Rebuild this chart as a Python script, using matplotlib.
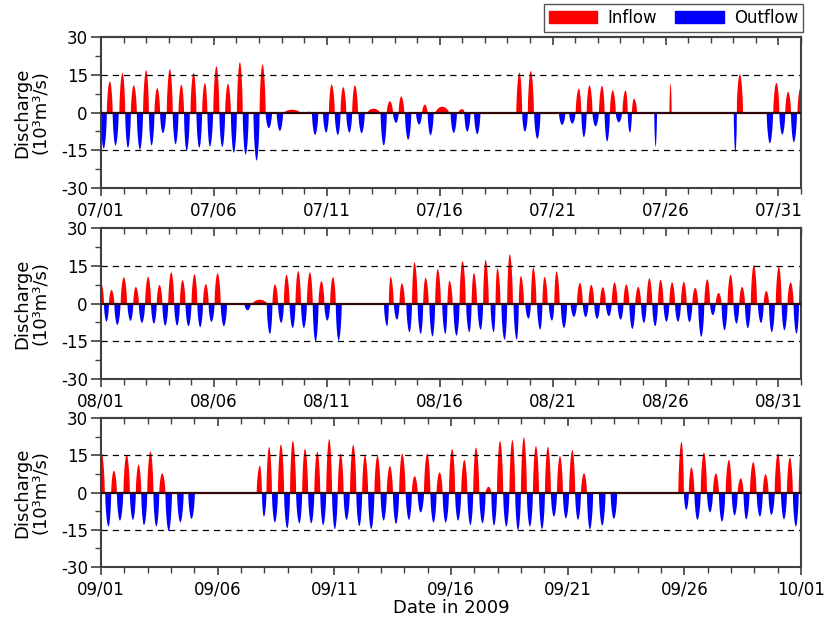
import numpy as np
import matplotlib.pyplot as plt
from matplotlib.ticker import MultipleLocator, FixedLocator
from matplotlib.patches import Patch

plt.rcParams['axes.unicode_minus'] = False

# peak discharge of each tide (10^3 m3/s); times in days after the 1st of the month
jul_in_t = [0.37, 0.93, 1.43, 1.98, 2.47, 3.03, 3.54, 4.08, 4.58, 5.09, 5.60, 6.13, 7.13,
            10.19, 10.70, 11.22, 12.77, 13.27, 14.32, 18.51, 19.01, 21.14, 21.61, 22.17,
            22.64, 23.21, 23.58, 28.27, 29.89, 30.41, 30.96]
jul_in_q = [12.6, 15.9, 11.0, 17.0, 9.9, 17.5, 11.2, 15.9, 11.9, 18.6, 11.6, 20.2, 19.3,
            11.4, 10.3, 11.0, 4.7, 6.6, 3.3, 16.1, 16.7, 9.7, 11.0, 10.8,
            9.0, 9.0, 5.7, 15.4, 12.0, 8.4, 10.1]
jul_out_t = [0.10, 0.62, 1.17, 1.70, 2.22, 2.72, 3.28, 3.77, 4.33, 4.80, 5.35, 5.86, 6.38,
             6.87, 7.41, 7.90, 9.46, 9.95, 10.47, 10.98, 11.52, 12.50, 13.05, 13.58, 14.07,
             14.57, 15.60, 16.20, 16.64, 18.75, 19.30, 20.40, 20.85, 21.36, 21.88, 22.39,
             22.91, 23.40, 29.60, 30.15, 30.66]
jul_out_q = [-14.1, -12.9, -13.8, -14.5, -12.9, -8.0, -12.4, -15.1, -13.8, -13.3, -13.5, -15.8, -16.5,
             -18.9, -6.0, -7.1, -8.7, -7.8, -8.7, -7.8, -8.0, -12.9, -3.9, -10.6, -4.6,
             -8.8, -7.9, -7.4, -8.4, -7.4, -10.2, -4.7, -4.2, -9.6, -5.3, -11.3,
             -3.7, -7.8, -12.0, -8.6, -11.6]
# short spikes and slow weak flows: (time, peak, half duration)
jul_spikes = [(25.20, 11.7, 0.05), (24.54, -13.3, 0.06), (28.07, -15.5, 0.07)]
jul_slow = [(8.44, 1.3, 0.37), (9.19, 0.5, 0.15), (12.05, 1.7, 0.28),
            (15.09, 2.5, 0.30), (15.96, 1.5, 0.16)]

aug_in_t = [0.0, 0.44, 0.99, 1.52, 2.07, 2.57, 3.09, 3.59, 4.12, 4.62, 5.14,
            7.68, 8.19, 8.71, 9.23, 9.74, 10.25,
            12.80, 13.30, 13.86, 14.35, 14.89, 15.41, 15.99, 16.49, 17.01, 17.53, 18.08,
            18.57, 19.12, 19.62, 20.15,
            21.19, 21.69, 22.20, 22.72, 23.24, 23.77, 24.26, 24.76, 25.27, 25.79, 26.29,
            26.83, 27.33, 27.86, 28.37, 28.89, 29.44, 30.00, 30.52, 31.0]
aug_in_q = [7.8, 5.6, 10.6, 6.8, 10.8, 7.6, 12.6, 9.5, 11.8, 7.9, 12.2,
            7.8, 11.6, 13.1, 12.6, 9.1, 10.7,
            10.8, 8.2, 16.6, 10.4, 13.9, 9.2, 17.0, 12.3, 17.5, 14.2, 19.8,
            11.1, 14.5, 10.8, 12.9,
            8.4, 7.6, 6.7, 8.6, 7.8, 6.8, 10.2, 9.6, 8.6, 8.8, 6.4,
            9.8, 4.4, 11.6, 6.8, 15.5, 5.2, 14.9, 8.6, 14.2]
aug_out_t = [0.22, 0.70, 1.29, 1.79, 2.32, 2.82, 3.35, 3.85, 4.37, 4.87, 5.42, 6.47,
             7.46, 7.96, 8.47, 8.96, 9.48, 10.00, 10.50,
             12.65, 13.09, 13.64, 14.14, 14.66, 15.23, 15.72, 16.29, 16.79, 17.37, 17.85,
             18.39, 18.91, 19.43, 19.95, 20.48,
             20.92, 21.44, 21.95, 22.47, 22.99, 23.51, 24.02, 24.52, 25.02, 25.53, 26.04,
             26.56, 27.07, 27.59, 28.12, 28.62, 29.21, 29.68, 30.24, 30.78]
aug_out_q = [-7.0, -8.3, -6.7, -7.5, -7.8, -8.6, -8.6, -8.8, -9.2, -7.1, -8.8, -2.5,
             -11.9, -7.5, -9.5, -9.5, -14.9, -6.6, -14.5,
             -8.8, -6.2, -11.2, -11.9, -12.9, -11.9, -12.6, -11.2, -10.2, -11.2, -14.2,
             -14.2, -5.8, -10.2, -6.6, -9.5,
             -5.1, -5.2, -5.9, -4.8, -6.2, -9.9, -7.5, -8.8, -7.0, -7.0, -7.2,
             -13.0, -4.4, -10.4, -7.8, -9.6, -7.5, -11.2, -10.4, -11.8]
aug_spikes = []
aug_slow = [(7.01, 1.7, 0.33)]

sep_in_t = [0.0, 0.53, 1.08, 1.59, 2.10, 2.60,
            6.79, 7.18, 7.69, 8.20, 8.72, 9.25, 9.76,
            10.25, 10.79, 11.29, 11.83, 12.36, 12.89, 13.42, 13.96, 14.49, 15.03, 15.55,
            16.05, 16.59, 17.08, 17.61, 18.10, 18.62, 19.13, 19.65, 20.18, 20.68,
            24.86, 25.28, 25.82, 26.33, 26.89, 27.40, 27.93, 28.46, 28.99, 29.50, 30.0]
sep_in_q = [16.2, 9.0, 15.4, 11.4, 16.7, 7.9,
            11.0, 18.5, 19.5, 21.0, 17.8, 16.6, 21.7,
            15.9, 19.4, 15.1, 15.0, 10.8, 15.8, 6.8, 15.9, 8.3, 17.7, 13.3,
            18.3, 2.5, 21.0, 21.3, 22.4, 18.9, 18.6, 14.9, 17.3, 7.9,
            20.6, 10.3, 16.3, 7.9, 13.3, 5.9, 12.4, 7.6, 15.9, 14.3, 19.3]
sep_out_t = [0.30, 0.79, 1.35, 1.82, 2.35, 2.88, 3.38, 3.86,
             6.96, 7.43, 7.96, 8.48, 8.99, 9.50, 10.00,
             10.50, 11.05, 11.56, 12.09, 12.62, 13.18, 13.68, 14.23, 14.75, 15.28, 15.81,
             16.33, 16.82, 17.35, 17.85, 18.36, 18.88, 19.39, 19.90,
             20.42, 20.93, 21.46, 21.96,
             25.06, 25.54, 26.08, 26.59, 27.13, 27.63, 28.22, 28.71, 29.25, 29.76]
sep_out_q = [-13.5, -11.1, -10.8, -12.9, -13.5, -15.3, -11.8, -10.4,
             -9.5, -11.8, -14.2, -12.2, -12.2, -12.9, -14.5,
             -10.8, -13.3, -14.5, -11.1, -12.4, -10.8, -7.8, -11.9, -11.9, -11.1, -12.9,
             -12.2, -13.1, -13.5, -14.9, -13.5, -14.5, -9.5, -10.2,
             -10.8, -14.6, -13.1, -10.4,
             -6.8, -10.8, -7.8, -11.5, -9.0, -10.6, -9.5, -8.8, -10.6, -13.5]
sep_spikes = []
sep_slow = []

jul_ticks = ['07/01', '07/06', '07/11', '07/16', '07/21', '07/26', '07/31']
aug_ticks = ['08/01', '08/06', '08/11', '08/16', '08/21', '08/26', '08/31']
sep_ticks = ['09/01', '09/06', '09/11', '09/16', '09/21', '09/26', '10/01']
month_days = [31, 31, 30]


def lobe(t, tc, qp, left, right):
    u = np.where(t < tc, (tc - t) / left, (t - tc) / right)
    u = np.minimum(u, 1)
    return qp * np.cos(np.pi / 2 * u) ** 0.6


def tide_curve(t, times, peaks, extra, cap=0.14):
    order = np.argsort(times)
    times = np.asarray(times)[order]
    peaks = np.asarray(peaks)[order]
    q = np.zeros_like(t)
    for i, (tc, qp) in enumerate(zip(times, peaks)):
        left = cap if i == 0 else min(cap, (tc - times[i - 1]) / 2)
        right = cap if i == len(times) - 1 else min(cap, (times[i + 1] - tc) / 2)
        q += lobe(t, tc, qp, left, right)
    for tc, qp, hw in extra:
        q += lobe(t, tc, qp, hw, hw)
    return q


panels = [
    (jul_in_t + jul_out_t, jul_in_q + jul_out_q, jul_spikes + jul_slow, jul_ticks, month_days[0]),
    (aug_in_t + aug_out_t, aug_in_q + aug_out_q, aug_spikes + aug_slow, aug_ticks, month_days[1]),
    (sep_in_t + sep_out_t, sep_in_q + sep_out_q, sep_spikes + sep_slow, sep_ticks, month_days[2]),
]

fig = plt.figure(figsize=(8.27, 6.26), dpi=100)
W, H = 827, 626
boxes = [(37, 188), (228, 379), (418, 567)]
gray = '#404040'

for (times, peaks, extra, ticks, nd), (top, bot) in zip(panels, boxes):
    ax = fig.add_axes([101 / W, 1 - bot / H, 700 / W, (bot - top) / H])
    t = np.linspace(0, nd, nd * 2000 + 1)
    q = tide_curve(t, times, peaks, extra)
    ax.fill_between(t, 0, np.clip(q, 0, None), color='#ff0000', lw=0)
    ax.fill_between(t, np.clip(q, None, 0), 0, color='#0000ff', lw=0)
    ax.axhline(0, color='#300808', lw=1.6, zorder=3)
    for yv in (15, -15):
        ax.axhline(yv, color='black', lw=0.9, ls=(0, (5, 4)))
    ax.set_xlim(0, nd)
    ax.set_ylim(-30, 30)
    ax.xaxis.set_major_locator(FixedLocator(range(0, 31, 5)))
    ax.set_xticklabels(ticks)
    ax.xaxis.set_minor_locator(MultipleLocator(1))
    ax.yaxis.set_major_locator(FixedLocator([-30, -15, 0, 15, 30]))
    ax.yaxis.set_minor_locator(MultipleLocator(7.5))
    ax.tick_params(axis='x', which='both', direction='out', top=False, bottom=True,
                   labelsize=12, color=gray)
    ax.tick_params(axis='x', which='major', length=6, width=1.2, pad=4)
    ax.tick_params(axis='x', which='minor', length=4, width=1.0)
    ax.tick_params(axis='y', which='both', direction='out', left=True, right=False,
                   labelsize=12, color=gray)
    ax.tick_params(axis='y', which='major', length=7.5, width=1.2, pad=2)
    ax.tick_params(axis='y', which='minor', length=4, width=1.0)
    # top ticks point into the panel
    sec = ax.secondary_xaxis('top')
    sec.xaxis.set_major_locator(FixedLocator(range(0, 31, 5)))
    sec.xaxis.set_minor_locator(MultipleLocator(1))
    sec.tick_params(which='both', direction='in', labeltop=False, color=gray)
    sec.tick_params(which='major', length=6, width=1.2)
    sec.tick_params(which='minor', length=4, width=1.0)
    sec.spines['top'].set_color(gray)
    sec.spines['top'].set_linewidth(1.5)
    for sp in ax.spines.values():
        sp.set_color(gray)
        sp.set_linewidth(1.5)
    ax.set_ylabel('Discharge\n(10³m³/s)', fontsize=13, linespacing=1.05)
    ax.yaxis.set_label_coords(-0.073, 0.5)

ax.set_xlabel('Date in 2009', fontsize=13, labelpad=0)

handles = [Patch(color='#ff0000', label='Inflow'), Patch(color='#0000ff', label='Outflow')]
fig.legend(handles=handles, ncol=2, loc='upper right', bbox_to_anchor=(803 / W, 1 - 4 / H),
           fontsize=12, fancybox=False, edgecolor='#555555', framealpha=1,
           handlelength=2.9, handleheight=0.7, columnspacing=1.1, handletextpad=0.6,
           borderpad=0.3, borderaxespad=0)

fig.savefig('out.png', dpi=100)
